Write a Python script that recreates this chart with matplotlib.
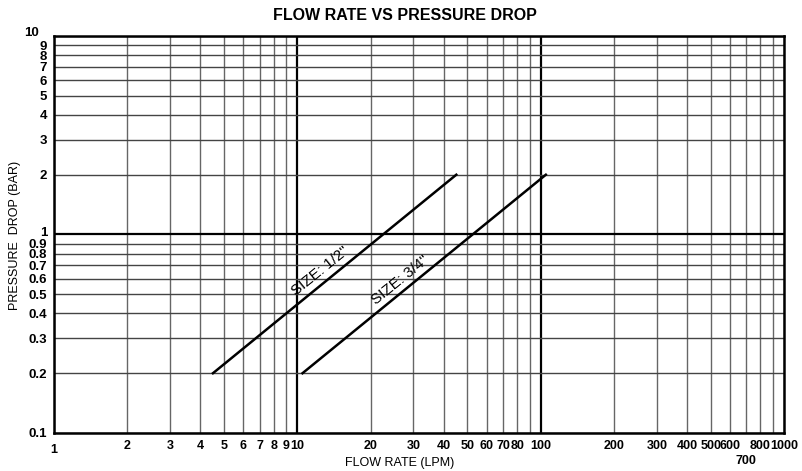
import numpy as np
import matplotlib
matplotlib.use("Agg")
import matplotlib.pyplot as plt
from matplotlib.transforms import ScaledTranslation

# flow rate (LPM) vs pressure drop (bar), end points of each size line
flow_half = [4.5, 45]
drop_half = [0.2, 2.0]
flow_3q = [10.5, 105]
drop_3q = [0.2, 2.0]

x_ticks = [1, 2, 3, 4, 5, 6, 7, 8, 9, 10, 20, 30, 40, 50, 60, 70, 80, 100,
           200, 300, 400, 500, 600, 700, 800, 1000]
x_labels = ['1', '2', '3', '4', '5', '6', '7', '8', '9', '10', '20', '30', '40',
            '50', '60', '70', '80', '100', '200', '300', '400', '500', '600',
            '700', '800', '1000']
y_ticks = [0.1, 0.2, 0.3, 0.4, 0.5, 0.6, 0.7, 0.8, 0.9, 1, 2, 3, 4, 5, 6, 7, 8, 9, 10]
y_labels = ['0.1', '0.2', '0.3', '0.4', '0.5', '0.6', '0.7', '0.8', '0.9', '1',
            '2', '3', '4', '5', '6', '7', '8', '9', '10']

font = ['Liberation Sans', 'DejaVu Sans']
plt.rcParams['font.family'] = font

fig = plt.figure(figsize=(8.02, 4.71), dpi=100)
ax = fig.add_axes([0.0673, 0.0807, 0.9103, 0.8429])
ax.set_xscale('log')
ax.set_yscale('log')
ax.set_xlim(1, 1000)
ax.set_ylim(0.1, 10)

# grid lines at every tick value, heavier at decades
for v in x_ticks + [90, 900]:
    heavy = v in (10, 100)
    ax.axvline(v, color='black' if heavy else '#666666', lw=1.6 if heavy else 1.0, zorder=1)
for v in y_ticks:
    heavy = v == 1
    ax.axhline(v, color='black' if heavy else '#444444', lw=1.6 if heavy else 1.0, zorder=1)

ax.plot(flow_half, drop_half, color='black', lw=1.8, zorder=3)
ax.plot(flow_3q, drop_3q, color='black', lw=1.8, zorder=3)

ax.text(12.4, 0.65, 'SIZE: 1/2"', rotation=39, ha='center', va='center',
        fontsize=11, zorder=4)
ax.text(26.5, 0.59, 'SIZE: 3/4"', rotation=39, ha='center', va='center',
        fontsize=11, zorder=4)

ax.minorticks_off()
ax.set_xticks(x_ticks)
ax.set_xticklabels(x_labels, fontsize=9, fontweight='bold', va='top')
ax.set_yticks(y_ticks)
ax.set_yticklabels(y_labels, fontsize=9.5, fontweight='bold')
ax.tick_params(length=0, pad=5)

# nudge crowded labels like the original sheet
shift_y = {'10': (-0.08, 0.04), '1': (0, 0.03)}
shift_x = {'1': (0, -0.04), '700': (0, -0.15)}
for lab in ax.get_yticklabels():
    if lab.get_text() in shift_y:
        dx, dy = shift_y[lab.get_text()]
        lab.set_transform(lab.get_transform() + ScaledTranslation(dx, dy, fig.dpi_scale_trans))
for lab in ax.get_xticklabels():
    if lab.get_text() in shift_x:
        dx, dy = shift_x[lab.get_text()]
        lab.set_transform(lab.get_transform() + ScaledTranslation(dx, dy, fig.dpi_scale_trans))

for s in ax.spines.values():
    s.set_linewidth(1.8)
    s.set_zorder(5)

fig.text(405 / 802, 1 - 15 / 471, 'FLOW RATE VS PRESSURE DROP', fontsize=11.5,
         fontweight='bold', ha='center', va='center')
fig.text(400 / 802, 1 - 463 / 471, 'FLOW RATE (LPM)', fontsize=9,
         ha='center', va='center')
fig.text(15 / 802, 1 - 235 / 471, 'PRESSURE  DROP (BAR)', fontsize=9,
         rotation=90, ha='center', va='center')

fig.savefig('out.png', dpi=100)
